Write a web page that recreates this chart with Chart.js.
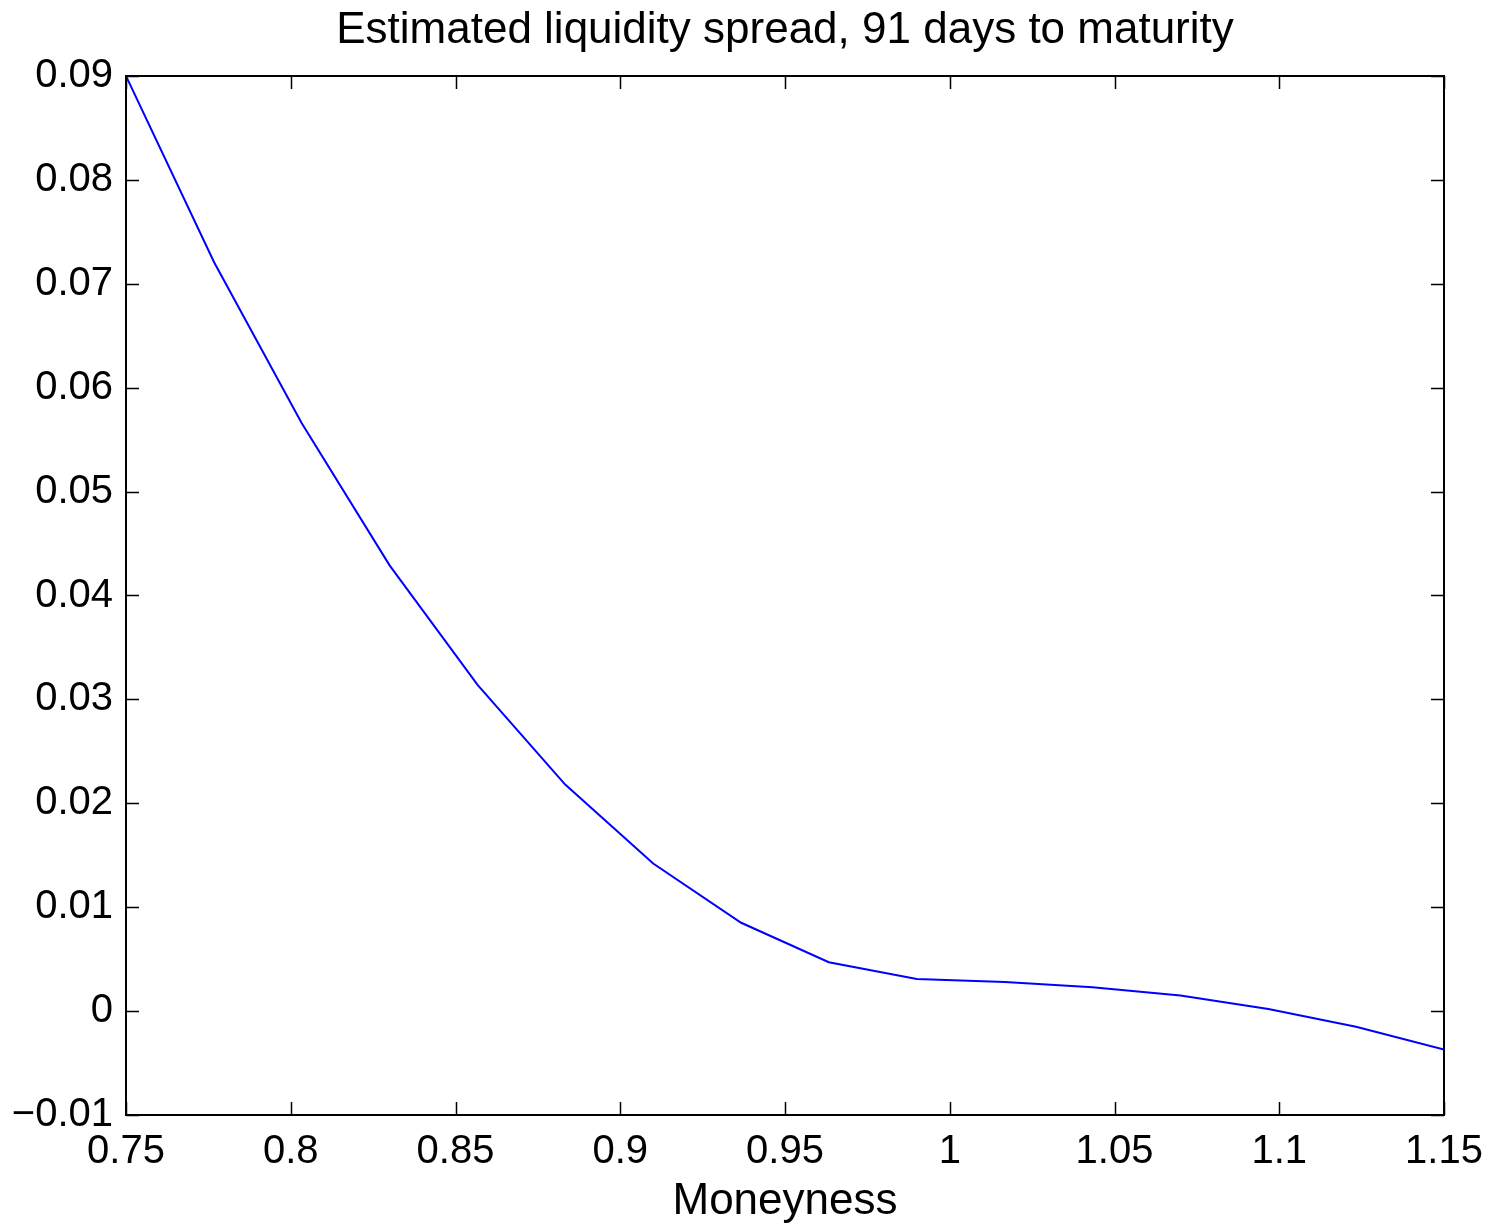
<!DOCTYPE html>
<html>
<head>
<meta charset="utf-8">
<title>Estimated liquidity spread</title>
<script src="https://cdn.jsdelivr.net/npm/chart.js@4/dist/chart.umd.min.js"></script>
<style>
  html, body { margin: 0; padding: 0; background: #fff; }
  #wrap { width: 1491px; height: 1228px; }
</style>
</head>
<body>
<div id="wrap"><canvas id="spread-chart" width="1491" height="1228"></canvas></div>
<script>
// Moneyness grid and estimated spread
const moneyness = [0.75, 0.7767, 0.8033, 0.83, 0.8567, 0.8833, 0.91, 0.9367,
  0.9633, 0.99, 1.0167, 1.0433, 1.07, 1.0967, 1.1233, 1.15];
const spread = [0.09, 0.0721, 0.0566, 0.0429, 0.0314, 0.0218, 0.0142, 0.0085,
  0.0047, 0.0031, 0.0028, 0.0023, 0.0015, 0.0002, -0.0015, -0.0037];

const xTicks = [0.75, 0.8, 0.85, 0.9, 0.95, 1, 1.05, 1.1, 1.15];
const yTicks = [-0.01, 0, 0.01, 0.02, 0.03, 0.04, 0.05, 0.06, 0.07, 0.08, 0.09];

const FONT = 'Liberation Sans, Arial, Helvetica, sans-serif';

const fmt = (v) => {
  const s = String(parseFloat(v.toFixed(4)));
  return s.startsWith('-') ? '\u2212' + s.slice(1) : s;
};

// Box around the plot with inward ticks on all four sides
const frameTicks = {
  id: 'frameTicks',
  afterDatasetsDraw(c) {
    const { ctx, chartArea: a, scales } = c;
    const len = 13;
    ctx.save();
    ctx.strokeStyle = '#000';
    ctx.lineWidth = 1.5;
    ctx.beginPath();
    xTicks.forEach((v) => {
      const px = Math.round(scales.x.getPixelForValue(v)) + 0.5;
      ctx.moveTo(px, a.bottom); ctx.lineTo(px, a.bottom - len);
      ctx.moveTo(px, a.top); ctx.lineTo(px, a.top + len);
    });
    yTicks.forEach((v) => {
      const py = Math.round(scales.y.getPixelForValue(v)) + 0.5;
      ctx.moveTo(a.left, py); ctx.lineTo(a.left + len, py);
      ctx.moveTo(a.right, py); ctx.lineTo(a.right - len, py);
    });
    ctx.stroke();
    ctx.lineWidth = 2;
    ctx.strokeRect(a.left, a.top, a.right - a.left, a.bottom - a.top);
    ctx.restore();
  },
};

new Chart(document.getElementById('spread-chart'), {
  type: 'line',
  data: {
    datasets: [{
      data: moneyness.map((m, i) => ({ x: m, y: spread[i] })),
      borderColor: '#0000ff',
      borderWidth: 2,
      pointRadius: 0,
      tension: 0,
      fill: false,
    }],
  },
  options: {
    responsive: false,
    animation: false,
    layout: { padding: { top: 0, right: 47, bottom: 0, left: 0 } },
    scales: {
      x: {
        type: 'linear',
        min: 0.75,
        max: 1.15,
        afterBuildTicks: (s) => { s.ticks = xTicks.map((v) => ({ value: v })); },
        afterFit: (s) => {
          s.height = 113;
          s.paddingLeft = 0;
          s.paddingRight = 0;
        },
        grid: { display: false, drawTicks: false },
        border: { display: false },
        ticks: {
          color: '#000',
          padding: 13,
          maxRotation: 0,
          autoSkip: false,
          font: { family: FONT, size: 40 },
          callback: (v) => fmt(v),
        },
        title: {
          display: true,
          text: 'Moneyness',
          color: '#000',
          padding: { top: 0, bottom: 0 },
          font: { family: FONT, size: 44 },
        },
      },
      y: {
        type: 'linear',
        min: -0.01,
        max: 0.09,
        afterBuildTicks: (s) => { s.ticks = yTicks.map((v) => ({ value: v })); },
        afterFit: (s) => {
          s.width = 126;
          s.paddingTop = 0;
          s.paddingBottom = 0;
        },
        grid: { display: false, drawTicks: false },
        border: { display: false },
        ticks: {
          color: '#000',
          padding: 13,
          autoSkip: false,
          font: { family: FONT, size: 40 },
          callback: (v) => fmt(v),
        },
      },
    },
    plugins: {
      legend: { display: false },
      tooltip: { enabled: false },
      title: {
        display: true,
        fullSize: false,
        text: 'Estimated liquidity spread, 91 days to maturity',
        color: '#000',
        padding: { top: 4, bottom: 19.2 },
        font: { family: FONT, size: 44, weight: 'normal' },
      },
    },
  },
  plugins: [frameTicks],
});
</script>
</body>
</html>
